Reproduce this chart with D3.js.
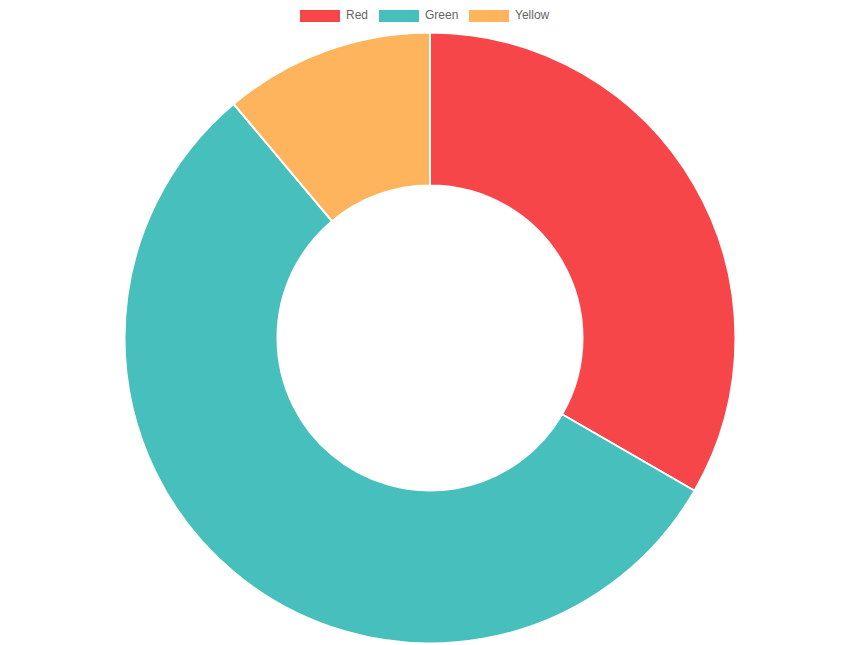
<!DOCTYPE html>
<html>
<head>
<meta charset="utf-8">
<script src="https://cdn.jsdelivr.net/npm/d3@7"></script>
<style>
  html, body { margin: 0; padding: 0; background: #fff; }
  svg { display: block; }
</style>
</head>
<body>
<div id="chart"></div>
<script>
var labels = ["Red", "Green", "Yellow"],
    values = [300, 500, 100],
    colors = ["#F7464A", "#46BFBD", "#FDB45C"];

var width = 860,
    height = 645,
    cx = 430,
    cy = 338,
    outerR = 305.5,
    innerR = 152.5;

var svg = d3.select("#chart").append("svg")
    .attr("width", width)
    .attr("height", height);

// donut
var pie = d3.pie().sort(null).value(function(d) { return d; });
var arc = d3.arc().innerRadius(innerR).outerRadius(outerR);

var g = svg.append("g").attr("transform", "translate(" + cx + "," + cy + ")");
g.selectAll("path")
    .data(pie(values))
    .enter().append("path")
    .attr("d", arc)
    .attr("fill", function(d, i) { return colors[i]; })
    .attr("stroke", "#fff")
    .attr("stroke-width", 2)
    .attr("stroke-linejoin", "bevel");

// legend
var legendX = [300, 379, 469];
var legend = svg.append("g").attr("class", "legend");
var item = legend.selectAll("g")
    .data(labels)
    .enter().append("g")
    .attr("transform", function(d, i) { return "translate(" + legendX[i] + ",10)"; });

item.append("rect")
    .attr("width", 40)
    .attr("height", 12)
    .attr("fill", function(d, i) { return colors[i]; });

item.append("text")
    .attr("x", 46)
    .attr("y", 5)
    .attr("dy", "0.35em")
    .style("font-family", "'Helvetica Neue', Helvetica, Arial, 'Liberation Sans', sans-serif")
    .style("font-size", "12px")
    .style("fill", "#666")
    .text(function(d) { return d; });
</script>
</body>
</html>
